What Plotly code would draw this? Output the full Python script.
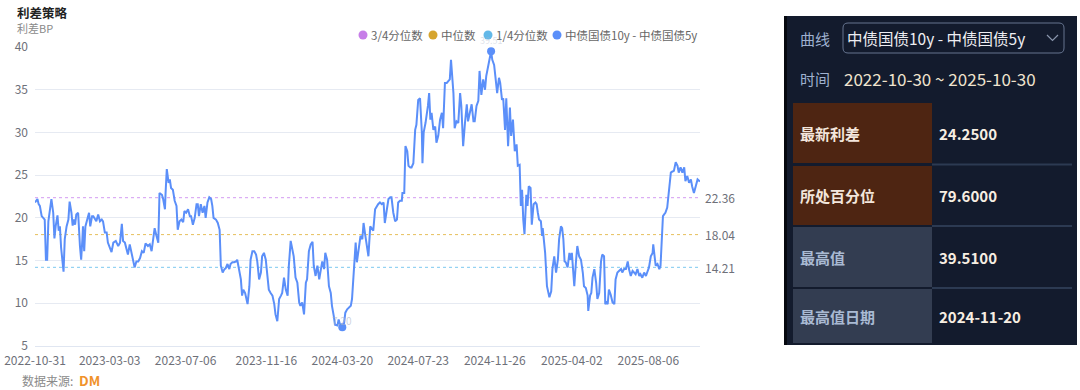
import plotly.graph_objects as go
import pandas as pd

# ---------------- data ----------------
START = "2022-10-31"
END = "2025-10-30"
series_name = "中债国债10y - 中债国债5y"

# days since 2022-10-31
day_offsets = [
    0, 4, 6, 8, 11, 14, 16, 18, 20, 22, 25, 27, 30, 32, 34, 37, 39, 41, 43, 45, 47, 49, 52, 55, 57, 60, 62, 64, 66, 68,
    71, 74, 76, 78, 79, 81, 83, 86, 89, 91, 94, 96, 99, 101, 104, 107, 110, 112, 115, 118, 120, 123, 126, 129, 133, 137,
    140, 143, 145, 148, 151, 153, 156, 159, 161, 164, 167, 170, 173, 176, 179, 182, 186, 189, 192, 194, 197, 200, 203,
    205, 209, 211, 214, 215, 217, 220, 222, 224, 227, 230, 233, 235, 238, 241, 244, 246, 249, 252, 255, 257, 260, 263,
    266, 268,
    270, 273, 276, 279, 281, 284, 287, 290, 292, 294, 298, 301, 304, 306, 309, 312, 314, 317, 320, 322, 325, 328, 331,
    333, 336, 339, 341, 343, 346, 350, 353, 355, 358, 361, 364, 366, 369, 372, 374, 377, 380, 383, 385, 388, 391, 394,
    396, 399, 402, 405, 407, 410, 413, 416, 418, 421, 424, 426, 429, 432, 435, 437, 440, 443, 446, 448, 451, 454, 457,
    459, 462, 465, 468, 470, 473, 476, 478, 481, 484, 487, 489, 492, 494, 498, 500, 503, 506, 509, 511, 514, 517, 520,
    522, 525, 528, 530, 533, 536, 539, 541,
    544, 546, 549, 552, 554, 557, 560, 563, 565, 568, 571, 574, 576, 579, 582, 585, 587, 590, 593, 596, 598, 601, 604,
    605, 608, 610, 613, 615, 618, 620, 623, 626, 628, 631, 634, 637, 638, 640, 643, 647, 649, 651, 653, 656, 659, 661,
    664, 667, 670, 672, 675, 678, 680, 683, 685, 687, 689, 691, 694, 697, 700, 702, 705, 708, 711, 713, 716, 719, 722,
    724, 727, 730, 732, 735, 738, 741, 743, 746, 749, 751, 753, 756, 758, 761, 764, 766, 769, 771, 774, 776, 779, 782,
    784, 787, 790, 793, 795, 798, 800, 802, 804, 806, 809, 811, 813, 816, 818, 821,
    824, 826, 828, 830, 833, 835, 836, 838, 840, 843, 844, 847, 850, 852, 855, 858, 861, 863, 866, 868, 870, 872, 874,
    877, 880, 882, 884, 886, 888, 891, 893, 896, 899, 902, 904, 907, 910, 911, 914, 916, 918, 921, 924, 926, 929, 932,
    934, 937, 939, 941, 943, 945, 948, 951, 954, 956, 959, 962, 965, 967, 970, 973, 976, 978, 981, 984, 986, 989, 992,
    995, 997, 1000, 1003, 1006, 1008, 1011, 1014, 1017, 1018, 1020, 1022, 1025, 1028, 1030, 1032, 1034, 1036, 1038,
    1041, 1044, 1047, 1049, 1052, 1055, 1058, 1060, 1063, 1066, 1069, 1071, 1074, 1077, 1080, 1082, 1085, 1088, 1091,
    1095,
]

spread_bp = [
    21.8, 22.2, 21.6, 21.4, 20.2, 20.0, 19.8, 15.1, 15.1, 19.6, 21.4, 22.2, 20.6, 17.6, 19.0, 20.3, 18.5, 19.0, 16.5,
    15.1, 13.7, 17.5, 19.0, 19.8, 21.9, 20.6, 19.1, 19.8, 19.2, 20.4,
    20.6, 16.7, 15.1, 17.5, 19.0, 16.1, 19.0, 19.8, 20.6, 19.0, 20.2, 20.2, 19.8, 19.6, 20.4, 19.6, 19.8, 19.6, 18.3,
    18.3, 17.1, 16.5, 16.0, 17.1, 17.3, 16.7,
    17.1, 19.3, 17.3, 17.1, 16.1, 15.7, 16.9, 15.9, 15.5, 14.2, 14.9, 14.9, 15.3, 16.1, 15.9, 17.0, 16.7, 16.9, 16.1,
    17.5, 18.8, 17.9, 17.1,
    22.9, 22.7, 22.2, 21.0, 22.9, 25.7, 24.1, 24.5, 23.5, 23.3, 22.0, 21.4, 18.6, 19.6, 19.8, 19.5, 20.8, 20.6, 21.0,
    20.2, 20.2, 19.2, 20.0,
    21.6, 21.6,
    20.2, 21.6, 20.6, 21.4, 20.0, 21.8, 22.4, 22.2, 21.4, 20.0, 19.8, 19.4, 18.6, 14.4, 13.6, 14.0, 14.1, 14.6, 14.0,
    14.6, 14.8, 14.8, 14.9,
    15.1, 14.0, 12.8, 10.9, 11.6, 11.2, 9.9, 12.0, 15.1, 16.1, 16.1, 15.7, 14.9, 12.8, 13.6, 15.5, 15.9, 15.1, 12.8,
    11.6, 11.2, 10.9, 9.9,
    8.7, 7.9, 10.5, 10.9, 11.2, 13.0, 11.6, 10.9, 14.4, 17.3, 16.3, 15.5, 13.0, 12.4, 10.1, 9.7, 10.1, 8.7, 12.4, 12.8,
    16.1, 16.9, 17.2,
    14.4, 13.2, 14.4, 12.8, 13.6, 14.9, 14.0, 15.9, 15.1, 12.0, 11.2, 9.7, 8.5, 7.5, 7.4, 8.1, 7.3, 7.2, 7.7, 8.9, 9.3,
    9.5, 9.7,
    10.5, 13.6, 17.1, 14.8, 16.1, 17.9, 17.5, 19.4,
    17.9, 16.7, 15.5, 19.0, 18.8, 18.5, 21.0, 21.4, 21.6, 21.8, 21.6, 21.8, 19.4, 20.8, 22.2, 22.4, 22.4, 20.6, 19.6,
    19.8, 21.8, 22.0, 22.0,
    22.9, 22.9, 28.4, 27.8, 26.1, 25.9, 25.9, 26.4, 30.3, 30.9, 33.8, 34.0, 30.0, 26.4, 30.0, 31.1, 33.1, 34.6, 31.5,
    32.3, 30.3, 30.7, 28.8,
    29.6, 31.5, 32.3, 30.5, 35.8, 35.8, 36.0, 36.2, 38.5, 36.2, 34.6, 30.5, 31.3, 31.1, 34.6, 33.1, 28.4, 31.1, 33.3,
    31.3, 32.3, 33.3, 31.3,
    31.3, 33.1, 33.7, 37.2, 34.4, 36.2, 35.0, 36.6, 37.7, 38.7, 39.51, 38.5, 37.9, 36.6, 34.6, 36.4, 35.8, 33.8, 34.0,
    30.3, 34.0, 28.4, 32.9,
    29.6, 31.5, 27.8, 28.6, 26.1, 26.2, 21.4, 23.3, 19.8, 18.1, 22.7, 21.4, 23.7, 23.5, 19.2, 21.6,
    21.8, 21.6, 20.6, 19.8, 19.6, 17.9, 18.8, 17.5, 15.9, 12.0, 11.6, 10.7, 11.4, 14.0, 15.5, 13.6, 15.1, 17.5, 19.0,
    18.8, 17.5, 14.9, 14.8,
    14.2, 15.9, 15.1, 15.9, 14.4, 12.0, 15.1, 16.7, 15.5, 15.1, 13.6, 12.0, 11.8, 10.9, 9.1, 10.9, 11.2, 13.0, 14.0,
    12.4, 10.5, 11.2, 14.9,
    15.7, 15.5, 9.9, 10.1, 9.9, 11.6, 11.0, 10.1, 9.9, 12.8, 13.6, 13.8, 14.0, 13.6, 14.0, 14.0, 14.9, 14.0, 13.2, 13.8,
    13.6, 13.4, 14.0,
    13.2, 13.4, 13.0, 13.6, 13.2, 13.6, 14.2, 15.5, 15.9, 16.9, 15.9, 14.4, 14.6, 14.0, 14.4, 16.7, 20.2, 20.4, 20.6,
    21.2, 22.9, 25.3, 25.4, 25.5, 26.5, 26.1, 25.3, 25.9, 25.3, 25.9, 24.3, 24.9, 24.1, 24.5, 23.7, 22.9, 23.7, 24.5,
    24.25,
]

quantile_names = ["3/4分位数", "中位数", "1/4分位数"]
quantile_values = [22.36, 18.04, 14.21]
quantile_line_colors = ["#d39bf2", "#e6bf5c", "#7cc8f0"]
legend_names = ["3/4分位数", "中位数", "1/4分位数", series_name]
legend_colors = ["#c77ee8", "#d6a52f", "#62b8e8", "#5b8ff9"]

tick_dates = ["2022-10-31", "2023-03-03", "2023-07-06", "2023-11-16", "2024-03-20",
              "2024-07-23", "2024-11-26", "2025-04-02", "2025-08-06"]
y_ticks = [5, 10, 15, 20, 25, 30, 35, 40]

stat_labels = ["最新利差", "所处百分位", "最高值", "最高值日期"]
stat_values = ["24.2500", "79.6000", "39.5100", "2024-11-20"]
time_range_text = "2022-10-30 ~ 2025-10-30"

assert len(day_offsets) == len(spread_bp), (len(day_offsets), len(spread_bp))

dates = pd.Timestamp(START) + pd.to_timedelta(day_offsets, unit="D")

# ---------------- figure ----------------
W, H = 1080, 390
PL, PR, PT, PB = 35, 700, 47, 346
FONT = "Noto Sans CJK SC, Noto Sans, sans-serif"
MAIN = "#5b8ff9"
AXIS_TXT = "#6e7079"

fig = go.Figure()

for name, val, col in zip(quantile_names, quantile_values, quantile_line_colors):
    fig.add_trace(go.Scatter(x=[START, END], y=[val, val], mode="lines", name=name,
                             line=dict(color=col, width=1, dash="dot"), showlegend=False, hoverinfo="skip"))

fig.add_trace(go.Scatter(x=dates, y=spread_bp, mode="lines", name=series_name,
                         line=dict(color=MAIN, width=2), showlegend=False))

imax = max(range(len(spread_bp)), key=lambda i: spread_bp[i])
imin = min(range(len(spread_bp)), key=lambda i: spread_bp[i])
fig.add_trace(go.Scatter(x=[dates[imax], dates[imin]], y=[spread_bp[imax], spread_bp[imin]], mode="markers",
                         marker=dict(color=MAIN, size=8), showlegend=False, hoverinfo="skip"))

# pixel overlay subplot
fig.add_trace(go.Scatter(x=[None], y=[None], xaxis="x2", yaxis="y2", showlegend=False, hoverinfo="skip"))

fig.update_layout(
    template="none",
    width=W, height=H, margin=dict(l=0, r=0, t=0, b=0, pad=0, autoexpand=False),
    paper_bgcolor="white", plot_bgcolor="rgba(0,0,0,0)",
    font=dict(family=FONT, size=12, color=AXIS_TXT),
    showlegend=False,
    xaxis=dict(domain=[PL / W, PR / W], type="date", range=[START, END], tickvals=tick_dates, ticktext=tick_dates,
               showgrid=False, showline=True, linecolor="#e0e6f1", linewidth=1, ticks="", zeroline=False,
               tickfont=dict(size=12, color=AXIS_TXT), ticklabelstandoff=4, fixedrange=True, anchor="y",
               automargin=False),
    yaxis=dict(domain=[(H - PB) / H, (H - PT) / H], range=[5, 40], tickvals=y_ticks, showgrid=True,
               gridcolor="#e6eaf2", gridwidth=1, showline=False, zeroline=False, ticks="",
               tickfont=dict(size=12, color=AXIS_TXT), ticklabelstandoff=6, fixedrange=True, anchor="x",
               automargin=False),
    xaxis2=dict(domain=[0, 1], range=[0, W], visible=False, anchor="y2", fixedrange=True, automargin=False),
    yaxis2=dict(domain=[0, 1], range=[H, 0], visible=False, anchor="x2", fixedrange=True, automargin=False),
)


def txt(x, y, text, size, color, anchor="left", bold=False):
    fig.add_annotation(x=x, y=y, xref="x2", yref="y2", text=("<b>%s</b>" % text) if bold else text,
                       showarrow=False, xanchor=anchor, yanchor="middle", borderpad=0,
                       font=dict(family=FONT, size=size, color=color))


def rect(x0, y0, x1, y1, fill, line=None, lw=0):
    fig.add_shape(type="rect", xref="x2", yref="y2", x0=x0, y0=y0, x1=x1, y1=y1, fillcolor=fill,
                  line=dict(color=line or fill, width=lw), layer="above")


# quantile labels at right edge
for val in quantile_values:
    fig.add_annotation(x=1, y=val, xref="x domain", yref="y", text="%.2f" % val, showarrow=False,
                       xanchor="left", yanchor="middle", xshift=3,
                       font=dict(family=FONT, size=12, color=AXIS_TXT))

# faint max / min value labels
fig.add_annotation(x=dates[imax], y=spread_bp[imax], xref="x", yref="y", text="%.2f" % spread_bp[imax],
                   showarrow=False, yshift=11, font=dict(family=FONT, size=9, color="rgba(170,180,200,0.4)"))
fig.add_annotation(x=dates[imin], y=spread_bp[imin], xref="x", yref="y", text="%.2f" % spread_bp[imin],
                   showarrow=False, yshift=7, font=dict(family=FONT, size=10, color="rgba(170,180,200,0.6)"))

# titles
txt(16, 12, "利差策略", 12.5, "#222222", bold=True)
txt(16, 28, "利差BP", 11, "#8a8a8a")

# legend
leg_x = [363, 433, 488, 557]
for lx, name, col in zip(leg_x, legend_names, legend_colors):
    fig.add_shape(type="circle", xref="x2", yref="y2", x0=lx - 4.5, x1=lx + 4.5, y0=35 - 4.5, y1=35 + 4.5,
                  fillcolor=col, line=dict(width=0), layer="above")
    txt(lx + 7, 35, name, 11.5, "#666666")

# source
txt(21, 380, "数据来源:", 12, "#8a8a8a")
txt(78, 380, "DM", 13.5, "#f0922b", bold=True)

# ---------------- right panel ----------------
PANEL_BG = "#131b2d"
rect(784, 16, 1077, 345, PANEL_BG)
rect(784, 16, 787, 345, "#06090f")

txt(799, 38, "曲线", 15, "#9fb1cf")
fig.add_shape(type="path", xref="x2", yref="y2",
              path="M 848 23 L 1059 23 Q 1064 23 1064 28 L 1064 48 Q 1064 53 1059 53 L 848 53 "
                   "Q 843 53 843 48 L 843 28 Q 843 23 848 23 Z",
              line=dict(color="#66748f", width=1), fillcolor="rgba(0,0,0,0)", layer="above")
txt(846, 38, series_name, 15.5, "#eeeef2")
fig.add_shape(type="path", xref="x2", yref="y2", path="M 1047 35 L 1052.5 40.5 L 1058 35",
              line=dict(color="#8a96ad", width=1.2), layer="above")

txt(799, 78, "时间", 15, "#9fb1cf")
txt(843, 78, time_range_text, 17, "#f0e4cf")

row_bounds = [(103, 163), (166, 225), (227, 287), (289, 343)]
label_fills = ["#4e2512", "#4e2512", "#333d51", "#333d51"]
label_colors = ["#f3e6dc", "#f3e6dc", "#a9bad3", "#a9bad3"]
for (y0, y1), lab, val, fill, lc in zip(row_bounds, stat_labels, stat_values, label_fills, label_colors):
    rect(793, y0, 932, y1, fill)
    yc = (y0 + y1) / 2
    txt(799, yc, lab, 15, lc, bold=True)
    txt(938, yc, val, 15, "#f7eee2", bold=True)
for ysep in [164.5, 226, 288]:
    fig.add_shape(type="line", xref="x2", yref="y2", x0=932, x1=1072, y0=ysep, y1=ysep,
                  line=dict(color="#2c3a52", width=2), layer="above")

fig.write_html("out.html")
